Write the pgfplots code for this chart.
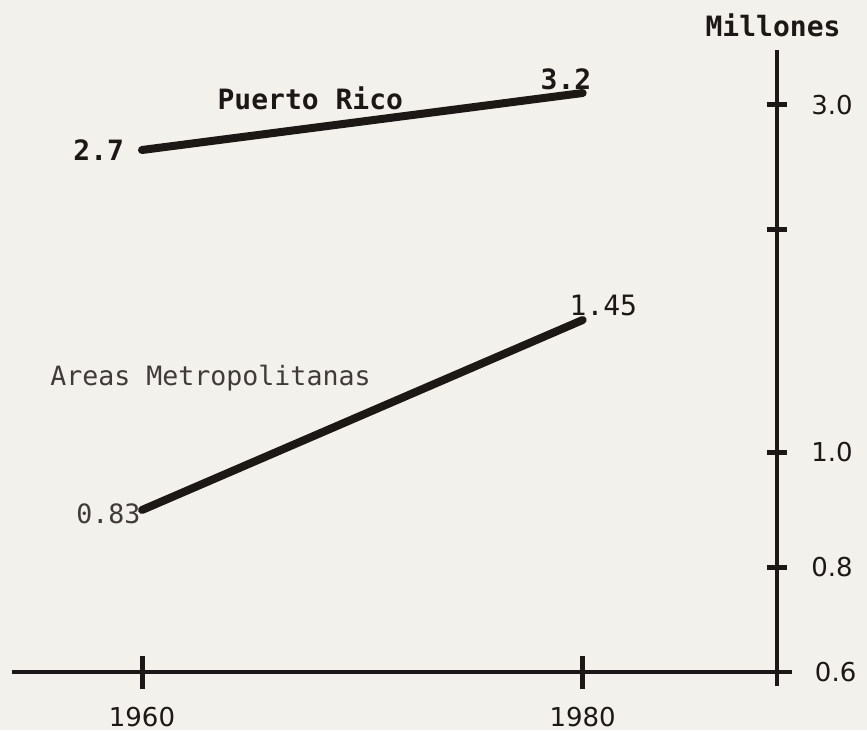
\documentclass[border=0pt]{standalone}
\usepackage{pgfplots}
\pgfplotsset{compat=1.18}
\usepackage{fontspec}
\setmainfont{DejaVu Sans}
\newfontfamily\mono{DejaVu Sans Mono}
\definecolor{paper}{RGB}{243,241,235}
\definecolor{ink}{RGB}{28,24,22}

\begin{document}
\begin{tikzpicture}
\path[use as bounding box, fill=paper] (0,0) rectangle (433.5pt,365pt);
\begin{axis}[
    at={(6pt,22pt)}, anchor=south west,
    scale only axis, width=390pt, height=318pt,
    % the printed scale is uneven: piecewise linear through the drawn ticks and points
    x coord trafo/.code={\pgfmathparse{#1-1988.8}},
    y coord trafo/.code={\pgfmathparse{#1<=0.8 ? (#1-0.6)*525 :
        (#1<=0.83 ? 105+(#1-0.8)*1900 :
        (#1<=1.0 ? 162+(#1-0.83)*341.18 :
        (#1<=1.45 ? 220+(#1-1.0)*293.33 :
        (#1<=2.0 ? 352+(#1-1.45)*163.64 :
        (#1<=2.7 ? 442+(#1-2.0)*114.29 :
        (#1<=3.0 ? 522+(#1-2.7)*150 : 567+(#1-3.0)*60))))))}},
    xmin=1954.1, xmax=1989.5, ymin=0.57333, ymax=3.9167,
    enlargelimits=false, clip=false,
    axis lines=middle,
    axis line style={-, line width=2pt, ink},
    xtick={1960,1980}, xticklabels={1960,1980},
    ytick={0.6,0.8,1.0,2.0,3.0}, yticklabels={0.6,0.8,1.0,,3.0},
    tick align=center,
    major tick style={line width=2.5pt, ink},
    xtick style={/pgfplots/major tick length=16.5pt},
    ytick style={/pgfplots/major tick length=10pt},
    ticklabel style={font=\fontsize{13}{13}\selectfont, text=ink},
    xticklabel style={anchor=north, yshift=-12pt},
    yticklabel style={anchor=west, xshift=16pt},
]
\addplot[ink, line width=4pt, line cap=round] coordinates {(1960,2.7) (1980,3.2)};
\addplot[ink, line width=4pt, line cap=round] coordinates {(1960,0.83) (1980,1.45)};

% origin label, which the middle axis lines leave out
\node[font=\fontsize{13}{13}\selectfont, text=ink, anchor=west, inner sep=0pt, xshift=19pt] at (axis cs:1988.8,0.6) {0.6};
\node[font=\mono\bfseries\fontsize{14}{14}\selectfont, text=ink] at (axis cs:1988.64,4.3333) {Millones};
\node[font=\mono\bfseries\fontsize{14}{14}\selectfont, text=ink] at (axis cs:1967.64,3.1167) {Puerto Rico};
\node[font=\mono\fontsize{13.3}{13.3}\selectfont, text=ink!85, anchor=west, inner sep=0pt] at (axis cs:1955.82,1.2523) {Areas Metropolitanas};
\node[font=\mono\bfseries\fontsize{14}{14}\selectfont, text=ink, anchor=south east, inner sep=1pt] at (axis cs:1980.5,3.22) {3.2};
\node[font=\mono\bfseries\fontsize{14}{14}\selectfont, text=ink, anchor=east, inner sep=0pt] at (axis cs:1959.2,2.7) {2.7};
\node[font=\mono\fontsize{13.3}{13.3}\selectfont, text=ink!85, anchor=east, inner sep=0pt, yshift=-2pt] at (axis cs:1959.95,0.83) {0.83};
\node[font=\mono\fontsize{14}{14}\selectfont, text=ink, anchor=south west, inner sep=1pt, yshift=1pt] at (axis cs:1979.3,1.45) {1.45};
\end{axis}
\end{tikzpicture}
\end{document}
